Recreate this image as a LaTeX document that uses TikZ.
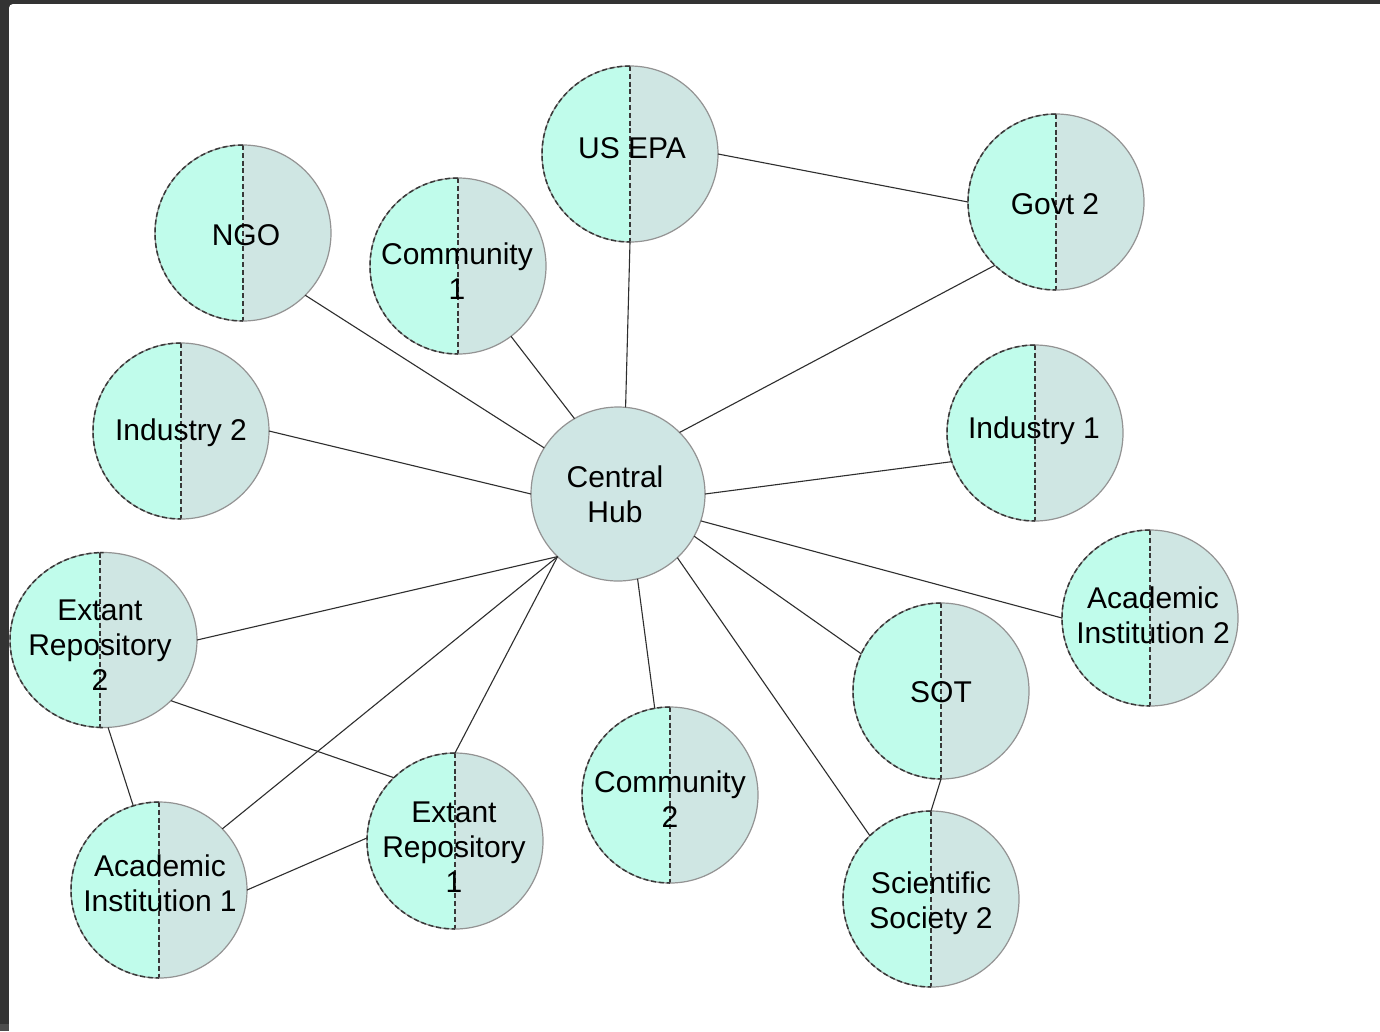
\documentclass[tikz,border=0pt]{standalone}
\usepackage{fontspec}
\setmainfont{Liberation Sans}
\usetikzlibrary{shapes.geometric}
\definecolor{leftfill}{HTML}{C0FCEB}
\definecolor{rightfill}{HTML}{CFE6E3}
\definecolor{hubfill}{HTML}{CFE6E4}
\definecolor{rimgray}{HTML}{939393}
\definecolor{dashgray}{HTML}{383838}
\definecolor{linkgray}{HTML}{2E2E2E}
\definecolor{framedark}{HTML}{333333}
\definecolor{framelow}{HTML}{4C4C4C}
\tikzset{
  label text/.style={font=\fontsize{30}{35}\selectfont, align=center, text=black,
    inner sep=0pt},
  halfline/.style={draw=dashgray, line width=1.5pt, dash pattern=on 5pt off 2.8pt},
  hubnode/.style={circle, minimum size=174pt, inner sep=0pt, outer sep=0pt,
    draw=rimgray, line width=1.2pt, fill=hubfill},
  % split position relative to the node centre
  split/.store in=\splitshift, split=0pt,
  halves/.style={inner sep=0pt, outer sep=0pt, draw=rimgray, line width=1.2pt,
    fill=rightfill,
    path picture={
      \fill[leftfill] (path picture bounding box.south west) rectangle
        ([xshift=\splitshift]path picture bounding box.north);
      \draw[halfline] ([xshift=\splitshift]path picture bounding box.north) --
        ([xshift=\splitshift]path picture bounding box.south);
    }},
  partner/.style={circle, minimum size=176pt, halves},
  link/.style={draw=linkgray, line width=1.1pt},
}
\begin{document}
\begin{tikzpicture}[x=1pt, y=-1pt]
  \useasboundingbox (0,0) rectangle (1380,1031);
  % window frame
  \fill[framedark] (0,0) rectangle (1380,1031);
  \fill[framelow] (0,1024) rectangle (9,1031);
  \fill[white, rounded corners=4pt] (9,4) rectangle (1392,1045);

  % central node
  \node[hubnode] (hub) at (618,494) {};

  % partner nodes
  \node[partner] (usepa) at (630,154) {};
  \node[partner] (govt)  at (1056,202) {};
  \node[partner] (ngo)   at (243,233) {};
  \node[partner] (com1)  at (458,266) {};
  \node[partner] (ind2)  at (181,431) {};
  \node[partner] (ind1)  at (1035,433) {};
  \node[partner] (ai2)   at (1150,618) {};
  \node[partner] (sot)   at (941,691) {};
  \node[ellipse, minimum width=187pt, minimum height=175pt, split=-3.5pt, halves]
        (er2)   at (103.5,640) {};
  \node[partner] (ai1)   at (159,890) {};
  \node[partner] (er1)   at (455,841) {};
  \node[partner] (com2)  at (670,795) {};
  \node[partner] (ss2)   at (931,899) {};

  % dashed outline on the left half of each partner
  \foreach \n in {usepa,govt,ngo,com1,ind2,ind1,ai2,sot,ai1,er1,com2,ss2}
    \draw[halfline] (\n.north) arc[start angle=90, end angle=270, radius=88pt];
  \draw[halfline] ([xshift=-3.5pt]er2.north) -- (er2.north)
    arc[start angle=90, end angle=270, x radius=93.5pt, y radius=87.5pt]
    -- ([xshift=-3.5pt]er2.south);

  % names
  \node[label text] (hub-t)   at (615,494)  {Central\\Hub};
  \node[label text] (usepa-t) at (632,148)  {US EPA};
  \node[label text] (govt-t)  at (1055,204) {Govt 2};
  \node[label text] (ngo-t)   at (246,235)  {NGO};
  \node[label text] (com1-t)  at (457,271)  {Community\\1};
  \node[label text] (ind2-t)  at (181,433)  {Industry 2};
  \node[label text] (ind1-t)  at (1034,431) {Industry 1};
  \node[label text] (ai2-t)   at (1153,615) {Academic\\Institution 2};
  \node[label text] (sot-t)   at (941,692)  {SOT};
  \node[label text] (er2-t)   at (100,645)  {Extant\\Repository\\2};
  \node[label text] (ai1-t)   at (160,883)  {Academic\\Institution 1};
  \node[label text] (er1-t)   at (454,847)  {Extant\\Repository\\1};
  \node[label text] (com2-t)  at (670,799)  {Community\\2};
  \node[label text] (ss2-t)   at (931,903)  {Scientific\\Society 2};

  % connectors
  \draw[link] (hub.148) -- (ngo.-45);
  \draw[link] (hub.120) -- (com1.-53);
  \draw[link] (hub.180) -- (ind2.0);
  \draw[link] (hub.85)  -- (usepa.270);
  \draw[link] (hub.45)  -- (govt.226);
  \draw[link] (usepa.0) -- (govt.180);
  \draw[link] (hub.0)   -- (ind1.199);
  \draw[link] (hub.-18) -- (ai2.180);
  \draw[link] (hub.-29) -- (sot.155);
  \draw[link] (hub.-47) -- (ss2.134);
  \draw[link] (sot.south) -- (ss2.north);
  \draw[link] (hub.-77) -- (com2.100);
  \draw[link] (hub.226) -- (er1.north);
  \draw[link] (hub.226) -- (ai1.44);
  \draw[link] (hub.226) -- (er2.east);
  \draw[link] (er2.-87) -- (ai1.107);
  \draw[link] (er2.-42) -- (er1.134);
  \draw[link] (ai1.0)   -- (er1.178);
\end{tikzpicture}
\end{document}
